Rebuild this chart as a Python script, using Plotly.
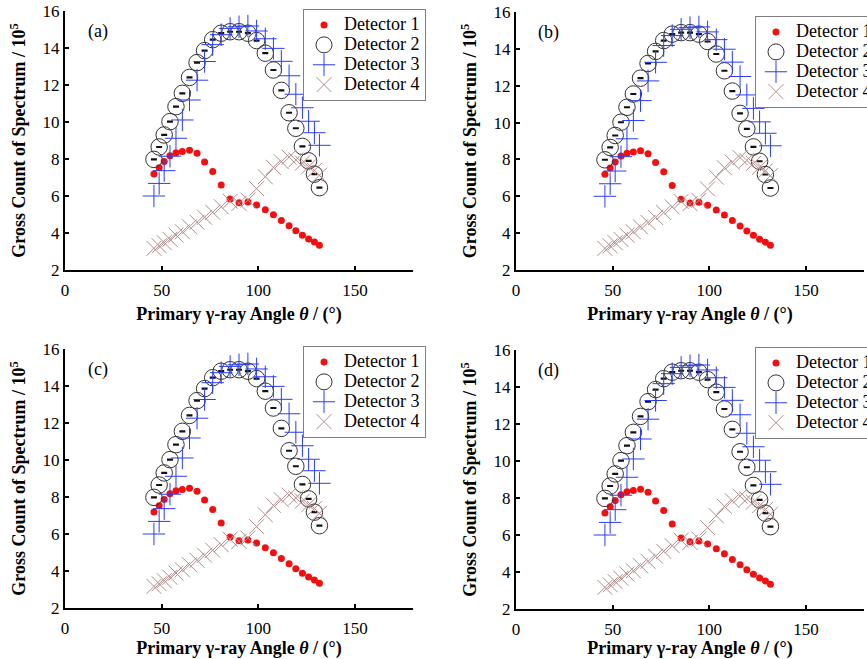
import plotly.graph_objects as go

# Primary gamma-ray angle (degrees) shared by all detectors
angle = [46.0, 48.7, 51.3, 54.3, 57.4, 60.7, 64.4, 68.3, 72.2, 76.4, 80.8, 85.4,
         90.0, 94.6, 99.1, 103.6, 107.8, 111.9, 115.9, 119.4, 122.8, 126.0, 129.0, 131.6]

# Gross count of spectrum / 1e5
det1 = [7.19, 7.53, 7.86, 8.18, 8.34, 8.40, 8.47, 8.31, 7.84, 7.33, 6.59, 5.84,
        5.64, 5.67, 5.52, 5.26, 4.98, 4.68, 4.39, 4.12, 3.88, 3.67, 3.51, 3.34]
det2 = [7.98, 8.65, 9.30, 10.02, 10.83, 11.55, 12.41, 13.21, 13.86, 14.45, 14.80, 14.88,
        14.88, 14.80, 14.40, 13.72, 12.81, 11.71, 10.50, 9.66, 8.68, 7.90, 7.18, 6.45]
det3 = [6.00, 6.68, 7.37, 8.15, 9.12, 10.11, 11.19, 12.26, 13.27, 14.18, 14.72, 15.06,
        15.15, 15.19, 14.92, 14.50, 13.98, 13.28, 12.50, 11.50, 10.77, 10.04, 9.42, 8.74]
det4 = [3.17, 3.31, 3.48, 3.66, 3.89, 4.07, 4.34, 4.58, 4.85, 5.12, 5.42, 5.72,
        5.60, 5.78, 6.40, 7.04, 7.55, 7.85, 8.10, 7.95, 7.78, 7.58, 7.38, 7.12]

panel_labels = ["(a)", "(b)", "(c)", "(d)"]
series_names = ["Detector 1", "Detector 2", "Detector 3", "Detector 4"]
x_ticks = [0, 50, 100, 150]
y_ticks = [2, 4, 6, 8, 10, 12, 14, 16]

W, H = 867, 659
FONT = "Liberation Serif, Times New Roman, serif"

# plot-area pixel boxes (left, right, top, bottom)
boxes = [(65, 413, 11, 270), (516, 864, 12, 270), (65, 413, 349, 608), (516, 864, 350, 609)]
legend_pos = [(303, 9), (755, 16), (303, 346), (755, 347)]


def legend_name(s):
    # legend rows are spaced by the (smaller) legend font; the label itself is 18px serif
    return ('<span style="font-family:Liberation Serif,serif;font-size:18px">'
            + s + "</span>")


fig = go.Figure()

for i in range(4):
    sfx = "" if i == 0 else str(i + 1)
    xa, ya = "x" + sfx, "y" + sfx
    lg = "legend" + sfx
    common = dict(x=angle, xaxis=xa, yaxis=ya, mode="markers", legend=lg)
    fig.add_trace(go.Scatter(y=det1, name=legend_name(series_names[0]),
                             marker=dict(symbol="circle", size=7, color="#f01010"), **common))
    fig.add_trace(go.Scatter(y=det2, name=legend_name(series_names[1]),
                             marker=dict(symbol="circle-open", size=16.5, color="#333333",
                                         line=dict(width=1, color="#333333")),
                             error_y=dict(type="constant", value=0.015, width=3,
                                          thickness=1.6, color="#111111"),
                             **common))
    fig.add_trace(go.Scatter(y=det3, name=legend_name(series_names[2]),
                             marker=dict(symbol="cross-thin-open", size=16, color="#2a3cf5",
                                         line=dict(width=1, color="#2a3cf5")), **common))
    fig.add_trace(go.Scatter(y=det4, name=legend_name(series_names[3]),
                             marker=dict(symbol="x-thin-open", size=15, color="#b08c8c",
                                         line=dict(width=1, color="#b08c8c")), **common))

    l, r, t, b = boxes[i]
    xdom = [l / W, r / W]
    ydom = [1 - b / H, 1 - t / H]
    axis_common = dict(showline=True, linewidth=2, linecolor="black", ticks="inside",
                       ticklen=4, tickwidth=1.5, tickcolor="black", showgrid=False,
                       zeroline=False, automargin=False,
                       tickfont=dict(family=FONT, size=17, color="black"))
    fig.update_layout(**{
        "xaxis" + sfx: dict(domain=xdom, range=[0, 180], tickvals=x_ticks,
                            anchor=ya, ticklabelstandoff=4,
                            title=dict(text="<b>Primary γ-ray Angle <i>θ</i> / (°)</b>",
                                       font=dict(family=FONT, size=18, color="black"),
                                       standoff=8),
                            **axis_common),
        "yaxis" + sfx: dict(domain=ydom, range=[2, 16], tickvals=y_ticks,
                            anchor=xa,
                            title=dict(text="<b>Gross Count of Spectrum / 10<sup>5</sup></b>",
                                       font=dict(family=FONT, size=18, color="black"),
                                       standoff=12),
                            **axis_common),
        lg: dict(x=legend_pos[i][0] / W, y=1 - legend_pos[i][1] / H,
                 xanchor="left", yanchor="top", bgcolor="white",
                 bordercolor="#808080", borderwidth=1,
                 font=dict(family=FONT, size=13, color="black"),
                 tracegroupgap=0, itemwidth=30),
    })
    fig.add_annotation(x=17, y=14.9, xref=xa, yref=ya, text=panel_labels[i],
                       showarrow=False, font=dict(family=FONT, size=18, color="black"))

fig.update_layout(width=W, height=H, margin=dict(l=0, r=0, t=0, b=0, autoexpand=False),
                  paper_bgcolor="white", plot_bgcolor="white")

fig.write_html("out.html", config={"displayModeBar": False},
               post_script="document.body.style.margin='0';document.body.style.overflow='hidden';")
